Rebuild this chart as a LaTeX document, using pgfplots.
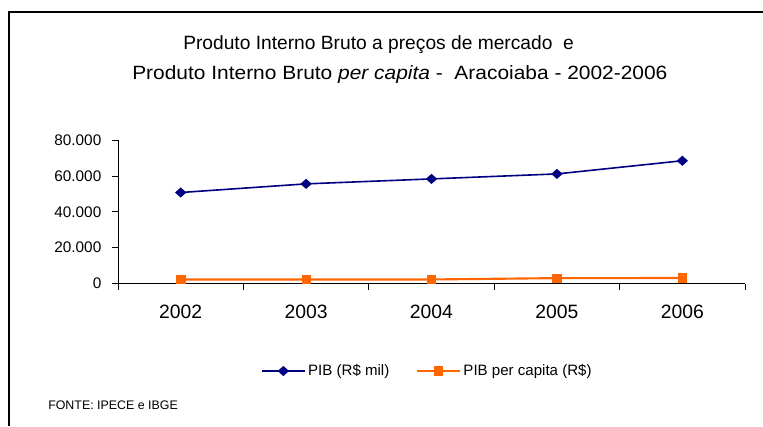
\documentclass[border=0pt]{standalone}
\usepackage{pgfplots}
\pgfplotsset{compat=1.18}
\usepackage{fontspec}
\setmainfont{Liberation Sans}
\newfontfamily\widefont[FakeStretch=1.09]{Liberation Sans}
\definecolor{pibblue}{RGB}{0,0,128}
\definecolor{pcorange}{RGB}{255,102,0}
\begin{document}
\begin{tikzpicture}[x=0.75pt,y=0.75pt]
\path[use as bounding box] (0,0) rectangle (763,426);
\draw[line width=1.1pt] (9,0) -- (9,414) -- (763,414);
\coordinate (A) at (118,142.5);
\node[anchor=base west,inner sep=0pt,font=\fontsize{14.4}{17}\selectfont] at (183,376.5) {Produto Interno Bruto a preços de mercado\ \ e};
\node[anchor=base west,inner sep=0pt,font=\widefont\fontsize{14.4}{17}\selectfont] at (132,347) {Produto Interno Bruto \textit{per capita} - \ Aracoiaba - 2002-2006};
\node[anchor=west,inner sep=0pt,font=\fontsize{9.3}{11}\selectfont] at (48,21) {FONTE: IPECE e IBGE};
\begin{axis}[
  at={(A)}, anchor=south west,
  scale only axis, width=470.25pt, height=107.6pt,
  xmin=-0.5, xmax=4.5, ymin=0, ymax=80000,
  axis x line=bottom, axis y line=left,
  axis line style={-, black, line width=0.6pt},
  xtick={0,1,2,3,4},
  xticklabels={2002,2003,2004,2005,2006},
  minor xtick={-0.5,0.5,1.5,2.5,3.5,4.5},
  major x tick style={draw=none},
  minor x tick style={black, line width=0.6pt},
  ytick={0,20000,40000,60000,80000},
  y tick style={black, line width=0.6pt},
  tick align=outside,
  major tick length=4.5pt, minor tick length=5pt,
  scaled y ticks=false,
  /pgf/number format/assume math mode=true,
  /pgf/number format/fixed,
  /pgf/number format/1000 sep={.},
  yticklabel style={font=\fontsize{11.5}{13}\selectfont, xshift=-4.5pt},
  xticklabel style={font=\fontsize{14.5}{16}\selectfont, yshift=-8pt},
  legend columns=2,
  legend style={draw=none, fill=none, at={(0.494,-0.61)}, anchor=center,
    font=\fontsize{11.3}{13}\selectfont,
    /tikz/every even column/.append style={column sep=18pt}},
  legend image code/.code={\draw[mark repeat=2,mark phase=2] plot coordinates {(0pt,0pt)(16pt,0pt)(32pt,0pt)};},
]
\addplot[pibblue, line width=1.2pt, mark=diamond*, mark size=3pt, mark options={xscale=1.5, fill=pibblue}]
  coordinates {(0,50740) (1,55560) (2,58330) (3,61110) (4,68450)};
\addlegendentry{PIB (R\$ mil)}
\addplot[pcorange, line width=1.6pt, mark=square*, mark size=3.2pt, mark options={fill=pcorange, line width=0.5pt}]
  coordinates {(0,2220) (1,2230) (2,2250) (3,3000) (4,3050)};
\addlegendentry{PIB per capita (R\$)}
\end{axis}
\end{tikzpicture}
\end{document}
